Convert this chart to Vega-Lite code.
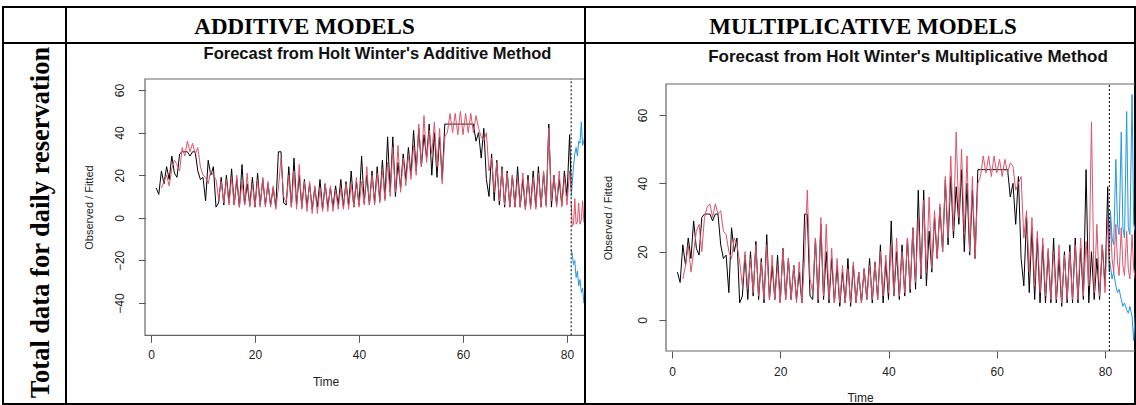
{
  "$schema": "https://vega.github.io/schema/vega-lite/v6.json",
  "padding": {"left": 2, "top": 6, "right": 0, "bottom": 0},
  "background": "white",
  "columns": 3,
  "align": "each",
  "bounds": "flush",
  "spacing": 0,
  "config": {
    "view": {"stroke": "#000", "strokeWidth": 2},
    "concat": {"spacing": 0},
    "font": "Liberation Sans",
    "axis": {"grid": false, "domain": false, "tickColor": "#555", "tickSize": 7, "labelFont": "Liberation Sans", "labelFontSize": 12, "labelColor": "#222", "titleFont": "Liberation Sans", "titleFontWeight": "normal", "titleColor": "#222", "titleFontSize": 12, "labelFlush": false, "labelOverlap": false}
  },
  "datasets": {
    "obs": [
      {"t":1,"o":14},{"t":1.5,"o":11},
      {"t":2,"o":22,"fa":14,"fm":12},{"t":2.5,"o":16,"fa":17,"fm":16},
      {"t":3,"o":24,"fa":20,"fm":22},{"t":3.5,"o":18,"fa":15,"fm":14},
      {"t":4,"o":29,"fa":23,"fm":20},{"t":4.5,"o":21,"fa":27,"fm":26},
      {"t":5,"o":19,"fa":25,"fm":28},{"t":5.5,"o":30,"fa":22,"fm":20},
      {"t":6,"o":31,"fa":33,"fm":30},{"t":6.5,"o":31,"fa":29,"fm":33},
      {"t":7,"o":31,"fa":36,"fm":34},{"t":7.5,"o":29,"fa":31,"fm":30},
      {"t":8,"o":31,"fa":35,"fm":34},{"t":8.5,"o":31,"fa":30,"fm":31},
      {"t":9,"o":22,"fa":33,"fm":32},{"t":9.5,"o":18,"fa":24,"fm":26},
      {"t":10,"o":19,"fa":20,"fm":25},{"t":10.5,"o":8,"fa":19,"fm":20},
      {"t":11,"o":27,"fa":16,"fm":18},{"t":11.5,"o":20,"fa":22,"fm":24},
      {"t":12,"o":24,"fa":20,"fm":22},{"t":12.5,"o":5,"fa":18,"fm":17},
      {"t":13,"o":7,"fa":9,"fm":10},{"t":13.5,"o":19,"fa":17,"fm":20},
      {"t":14,"o":6,"fa":7,"fm":9},{"t":14.5,"o":20,"fa":18,"fm":18},
      {"t":15,"o":7,"fa":6,"fm":8},{"t":15.5,"o":23,"fa":19,"fm":22},
      {"t":16,"o":6,"fa":6,"fm":7},{"t":16.5,"o":18,"fa":20,"fm":17},
      {"t":17,"o":5,"fa":5,"fm":6},{"t":17.5,"o":25,"fa":17,"fm":22},
      {"t":18,"o":6,"fa":6,"fm":6},{"t":18.5,"o":16,"fa":21,"fm":19},
      {"t":19,"o":6,"fa":5,"fm":6},{"t":19.5,"o":19,"fa":16,"fm":16},
      {"t":20,"o":5,"fa":5,"fm":5},{"t":20.5,"o":21,"fa":18,"fm":21},
      {"t":21,"o":6,"fa":5,"fm":6},{"t":21.5,"o":18,"fa":19,"fm":18},
      {"t":22,"o":6,"fa":5,"fm":6},{"t":22.5,"o":16,"fa":17,"fm":16},
      {"t":23,"o":6,"fa":5,"fm":5},{"t":23.5,"o":14,"fa":15,"fm":17},
      {"t":24,"o":5,"fa":4,"fm":5},{"t":24.5,"o":31,"fa":14,"fm":18},
      {"t":25,"o":31,"fa":28,"fm":38},{"t":25.5,"o":7,"fa":10,"fm":12},
      {"t":26,"o":6,"fa":7,"fm":8},{"t":26.5,"o":24,"fa":20,"fm":24},
      {"t":27,"o":5,"fa":5,"fm":6},{"t":27.5,"o":28,"fa":22,"fm":30},
      {"t":28,"o":6,"fa":4,"fm":7},{"t":28.5,"o":20,"fa":25,"fm":28},
      {"t":29,"o":5,"fa":4,"fm":6},{"t":29.5,"o":18,"fa":17,"fm":21},
      {"t":30,"o":5,"fa":3,"fm":5},{"t":30.5,"o":16,"fa":17,"fm":18},
      {"t":31,"o":4,"fa":2,"fm":5},{"t":31.5,"o":14,"fa":15,"fm":16},
      {"t":32,"o":5,"fa":2,"fm":5},{"t":32.5,"o":18,"fa":14,"fm":15},
      {"t":33,"o":4,"fa":3,"fm":5},{"t":33.5,"o":16,"fa":16,"fm":17},
      {"t":34,"o":5,"fa":3,"fm":5},{"t":34.5,"o":14,"fa":15,"fm":14},
      {"t":35,"o":5,"fa":3,"fm":5},{"t":35.5,"o":15,"fa":13,"fm":15},
      {"t":36,"o":6,"fa":4,"fm":6},{"t":36.5,"o":18,"fa":14,"fm":16},
      {"t":37,"o":5,"fa":4,"fm":6},{"t":37.5,"o":17,"fa":16,"fm":17},
      {"t":38,"o":6,"fa":4,"fm":6},{"t":38.5,"o":22,"fa":16,"fm":20},
      {"t":39,"o":5,"fa":5,"fm":7},{"t":39.5,"o":17,"fa":19,"fm":19},
      {"t":40,"o":6,"fa":5,"fm":8},{"t":40.5,"o":29,"fa":17,"fm":22},
      {"t":41,"o":7,"fa":6,"fm":7},{"t":41.5,"o":20,"fa":24,"fm":24},
      {"t":42,"o":6,"fa":6,"fm":7},{"t":42.5,"o":22,"fa":20,"fm":20},
      {"t":43,"o":7,"fa":6,"fm":8},{"t":43.5,"o":24,"fa":21,"fm":24},
      {"t":44,"o":8,"fa":7,"fm":9},{"t":44.5,"o":27,"fa":23,"fm":27},
      {"t":45,"o":9,"fa":8,"fm":11},{"t":45.5,"o":38,"fa":26,"fm":30},
      {"t":46,"o":12,"fa":10,"fm":13},{"t":46.5,"o":38,"fa":33,"fm":35},
      {"t":47,"o":10,"fa":12,"fm":14},{"t":47.5,"o":26,"fa":34,"fm":36},
      {"t":48,"o":14,"fa":12,"fm":15},{"t":48.5,"o":30,"fa":28,"fm":32},
      {"t":49,"o":18,"fa":15,"fm":18},{"t":49.5,"o":33,"fa":30,"fm":34},
      {"t":50,"o":20,"fa":18,"fm":20},{"t":50.5,"o":41,"fa":34,"fm":42},
      {"t":51,"o":22,"fa":20,"fm":24},{"t":51.5,"o":42,"fa":44,"fm":48},
      {"t":52,"o":24,"fa":24,"fm":26},{"t":52.5,"o":39,"fa":48,"fm":55},
      {"t":53,"o":28,"fa":26,"fm":30},{"t":53.5,"o":44,"fa":41,"fm":50},
      {"t":54,"o":20,"fa":30,"fm":25},{"t":54.5,"o":40,"fa":45,"fm":48},
      {"t":55,"o":19,"fa":24,"fm":20},{"t":55.5,"o":38,"fa":42,"fm":42},
      {"t":56,"o":18,"fa":16,"fm":18},{"t":56.5,"o":44,"fa":38,"fm":40},
      {"t":57,"o":44,"fa":40,"fm":42},{"t":57.5,"o":44,"fa":49,"fm":48},
      {"t":58,"o":44,"fa":40,"fm":43},{"t":58.5,"o":44,"fa":49,"fm":48},
      {"t":59,"o":44,"fa":39,"fm":42},{"t":59.5,"o":44,"fa":50,"fm":48},
      {"t":60,"o":44,"fa":39,"fm":43},{"t":60.5,"o":44,"fa":49,"fm":47},
      {"t":61,"o":44,"fa":40,"fm":42},{"t":61.5,"o":44,"fa":49,"fm":47},
      {"t":62,"o":44,"fa":40,"fm":43},{"t":62.5,"o":36,"fa":48,"fm":46},
      {"t":63,"o":40,"fa":42,"fm":45},{"t":63.5,"o":28,"fa":38,"fm":38},
      {"t":64,"o":42,"fa":36,"fm":40},{"t":64.5,"o":18,"fa":40,"fm":42},
      {"t":65,"o":10,"fa":22,"fm":24},{"t":65.5,"o":30,"fa":28,"fm":32},
      {"t":66,"o":8,"fa":12,"fm":14},{"t":66.5,"o":27,"fa":26,"fm":30},
      {"t":67,"o":6,"fa":8,"fm":10},{"t":67.5,"o":24,"fa":23,"fm":26},
      {"t":68,"o":5,"fa":6,"fm":8},{"t":68.5,"o":22,"fa":21,"fm":24},
      {"t":69,"o":5,"fa":5,"fm":7},{"t":69.5,"o":20,"fa":20,"fm":21},
      {"t":70,"o":5,"fa":5,"fm":6},{"t":70.5,"o":24,"fa":19,"fm":20},
      {"t":71,"o":5,"fa":5,"fm":6},{"t":71.5,"o":18,"fa":21,"fm":22},
      {"t":72,"o":4,"fa":4,"fm":5},{"t":72.5,"o":20,"fa":18,"fm":19},
      {"t":73,"o":5,"fa":4,"fm":6},{"t":73.5,"o":22,"fa":19,"fm":20},
      {"t":74,"o":5,"fa":4,"fm":6},{"t":74.5,"o":24,"fa":21,"fm":22},
      {"t":75,"o":5,"fa":5,"fm":6},{"t":75.5,"o":21,"fa":22,"fm":24},
      {"t":76,"o":6,"fa":5,"fm":7},{"t":76.5,"o":44,"fa":42,"fm":23},
      {"t":77,"o":5,"fa":8,"fm":10},{"t":77.5,"o":20,"fa":20,"fm":58},
      {"t":78,"o":6,"fa":5,"fm":8},{"t":78.5,"o":18,"fa":22,"fm":28},
      {"t":79,"o":6,"fa":5,"fm":7},{"t":79.5,"o":22,"fa":19,"fm":22},
      {"t":80,"o":10,"fa":6,"fm":8},{"t":80.5,"o":39,"fa":22,"fm":30},
      {"t":80.8,"o":14,"fa":12,"fm":20}
    ],
    "fca": [
      {"t":80.8,"m":8,"u":10,"l":-15},{"t":81,"m":-4,"u":16,"l":-17},
      {"t":81.25,"m":-3,"u":24,"l":-22},{"t":81.5,"m":9,"u":30,"l":-20},
      {"t":81.75,"m":-3,"u":33,"l":-28},{"t":82,"m":-2,"u":29,"l":-25},
      {"t":82.25,"m":7,"u":36,"l":-32},{"t":82.5,"m":-3,"u":35,"l":-29},
      {"t":82.75,"m":-1,"u":45,"l":-35},{"t":83,"m":8,"u":34,"l":-33},
      {"t":83.25,"m":-2,"u":36,"l":-40},{"t":83.5,"m":-1,"u":40,"l":-38},
      {"t":83.75,"m":7,"u":46,"l":-42},{"t":84,"m":-3,"u":38,"l":-44}
    ],
    "fcm": [
      {"t":80.8,"m":22,"u":22,"l":18},{"t":81,"m":30,"u":32,"l":16},
      {"t":81.3,"m":18,"u":24,"l":12},{"t":81.6,"m":14,"u":22,"l":14},
      {"t":82,"m":28,"u":47,"l":10},{"t":82.3,"m":17,"u":28,"l":8},
      {"t":82.6,"m":13,"u":25,"l":9},{"t":83,"m":27,"u":55,"l":6},
      {"t":83.3,"m":16,"u":27,"l":4},{"t":83.6,"m":13,"u":24,"l":5},
      {"t":84,"m":26,"u":61,"l":3},{"t":84.3,"m":15,"u":27,"l":2},
      {"t":84.6,"m":12,"u":25,"l":4},{"t":85,"m":25,"u":66,"l":1},
      {"t":85.3,"m":15,"u":28,"l":-6},{"t":85.6,"m":12,"u":26,"l":2},
      {"t":86,"m":24,"u":68,"l":0}
    ]
  },
  "concat": [
    {
      "width": 63, "height": 36,
      "data": {"values": [{"h": ""}]},
      "mark": {"type": "text"},
      "encoding": {
        "x": {"datum": 0, "type": "quantitative", "axis": null, "scale": {"domain": [-1, 1]}},
        "y": {"datum": 0, "type": "quantitative", "axis": null, "scale": {"domain": [-1, 1]}},
        "text": {"field": "h"}
      }
    },
    {
      "width": 519, "height": 36,
      "data": {"values": [{"h": "ADDITIVE MODELS"}]},
      "mark": {"type": "text", "font": "Liberation Serif", "fontWeight": "bold", "fontSize": 23, "baseline": "middle", "align": "center", "dx": -21, "dy": 2, "color": "#000"},
      "encoding": {
        "x": {"datum": 0, "type": "quantitative", "axis": null, "scale": {"domain": [-1, 1]}},
        "y": {"datum": 0, "type": "quantitative", "axis": null, "scale": {"domain": [-1, 1]}},
        "text": {"field": "h"}
      }
    },
    {
      "width": 550, "height": 36,
      "data": {"values": [{"h": "MULTIPLICATIVE MODELS"}]},
      "mark": {"type": "text", "font": "Liberation Serif", "fontWeight": "bold", "fontSize": 23, "baseline": "middle", "align": "center", "dx": 3, "dy": 2, "color": "#000"},
      "encoding": {
        "x": {"datum": 0, "type": "quantitative", "axis": null, "scale": {"domain": [-1, 1]}},
        "y": {"datum": 0, "type": "quantitative", "axis": null, "scale": {"domain": [-1, 1]}},
        "text": {"field": "h"}
      }
    },
    {
      "width": 63, "height": 361,
      "data": {"values": [{"lab": "Total data for daily reservation"}]},
      "mark": {"type": "text", "angle": 270, "font": "Liberation Serif", "fontWeight": "bold", "fontSize": 26.5, "baseline": "middle", "align": "center", "dx": 1, "dy": 6, "color": "#000"},
      "encoding": {
        "x": {"datum": 0, "type": "quantitative", "axis": null, "scale": {"domain": [-1, 1]}},
        "y": {"datum": 0, "type": "quantitative", "axis": null, "scale": {"domain": [-1, 1]}},
        "text": {"field": "lab"}
      }
    },
    {
      "width": 519, "height": 361,
      "title": {"text": "Forecast from Holt Winter's Additive Method", "anchor": "middle", "dx": 52, "offset": -19, "font": "Liberation Sans", "fontSize": 16.5, "fontWeight": "bold", "color": "#111"},
      "layer": [
        {
          "data": {"values": [{"f": 1}]},
          "mark": {"type": "rect", "filled": false, "stroke": "#666", "strokeWidth": 1.2, "clip": true},
          "encoding": {
            "x": {"datum": -1.15, "type": "quantitative", "scale": {"domain": [-16.346, 83.462], "nice": false, "zero": false},
                  "axis": {"orient": "bottom", "offset": -68.7, "values": [0, 20, 40, 60, 80], "title": "Time", "labelPadding": 7, "titlePadding": 16}},
            "x2": {"datum": 95},
            "y": {"datum": -55.16, "type": "quantitative", "scale": {"domain": [-87.42, 82.07], "nice": false, "zero": false},
                  "axis": {"orient": "left", "offset": -79.5, "values": [-40, -20, 0, 20, 40, 60], "title": "Observed / Fitted", "labelAngle": 270, "labelAlign": "center", "labelBaseline": "bottom", "labelPadding": 12, "titleFontSize": 11, "titlePadding": 19, "titleY": 164}},
            "y2": {"datum": 65.16}
          }
        },
        {
          "data": {"name": "obs"},
          "mark": {"type": "line", "color": "#000", "strokeWidth": 1, "clip": true},
          "encoding": {
            "x": {"field": "t", "type": "quantitative"},
            "y": {"field": "o", "type": "quantitative"}
          }
        },
        {
          "data": {"name": "obs"},
          "mark": {"type": "line", "color": "#DF536B", "strokeWidth": 1, "clip": true},
          "encoding": {
            "x": {"field": "t", "type": "quantitative"},
            "y": {"field": "fa", "type": "quantitative"}
          }
        },
        {
          "data": {"name": "fca"},
          "mark": {"type": "line", "color": "#DF536B", "strokeWidth": 1, "clip": true},
          "encoding": {
            "x": {"field": "t", "type": "quantitative"},
            "y": {"field": "m", "type": "quantitative"}
          }
        },
        {
          "data": {"name": "fca"},
          "mark": {"type": "line", "color": "#2297E6", "strokeWidth": 1, "clip": true},
          "encoding": {
            "x": {"field": "t", "type": "quantitative"},
            "y": {"field": "u", "type": "quantitative"}
          }
        },
        {
          "data": {"name": "fca"},
          "mark": {"type": "line", "color": "#2297E6", "strokeWidth": 1, "clip": true},
          "encoding": {
            "x": {"field": "t", "type": "quantitative"},
            "y": {"field": "l", "type": "quantitative"}
          }
        },
        {
          "data": {"values": [{"f": 1}]},
          "mark": {"type": "rule", "color": "#000", "strokeWidth": 1, "strokeDash": [2, 2]},
          "encoding": {
            "x": {"datum": 80.8, "type": "quantitative"},
            "y": {"datum": -55.16, "type": "quantitative"},
            "y2": {"datum": 65.16}
          }
        }
      ]
    },
    {
      "width": 550, "height": 361,
      "title": {"text": "Forecast from Holt Winter's Multiplicative Method", "anchor": "middle", "dx": 48, "offset": -23, "font": "Liberation Sans", "fontSize": 17, "fontWeight": "bold", "color": "#111"},
      "layer": [
        {
          "data": {"values": [{"f": 1}]},
          "mark": {"type": "rect", "filled": false, "stroke": "#666", "strokeWidth": 1.2, "clip": true},
          "encoding": {
            "x": {"datum": -1.108, "type": "quantitative", "scale": {"domain": [-16.074, 85.54], "nice": false, "zero": false},
                  "axis": {"orient": "bottom", "offset": -53, "values": [0, 20, 40, 60, 80], "title": "Time", "labelPadding": 8, "titlePadding": 15}},
            "x2": {"datum": 95},
            "y": {"datum": -9.07, "type": "quantitative", "scale": {"domain": [-24.585, 81.07], "nice": false, "zero": false},
                  "axis": {"orient": "left", "offset": -81, "values": [0, 20, 40, 60], "title": "Observed / Fitted", "labelAngle": 270, "labelAlign": "center", "labelBaseline": "bottom", "labelPadding": 10, "titleFontSize": 11, "titlePadding": 23, "titleY": 174.5}},
            "y2": {"datum": 69.07}
          }
        },
        {
          "data": {"name": "obs"},
          "mark": {"type": "line", "color": "#000", "strokeWidth": 1, "clip": true},
          "encoding": {
            "x": {"field": "t", "type": "quantitative"},
            "y": {"field": "o", "type": "quantitative"}
          }
        },
        {
          "data": {"name": "obs"},
          "mark": {"type": "line", "color": "#DF536B", "strokeWidth": 1, "clip": true},
          "encoding": {
            "x": {"field": "t", "type": "quantitative"},
            "y": {"field": "fm", "type": "quantitative"}
          }
        },
        {
          "data": {"name": "fcm"},
          "mark": {"type": "line", "color": "#DF536B", "strokeWidth": 1, "clip": true},
          "encoding": {
            "x": {"field": "t", "type": "quantitative"},
            "y": {"field": "m", "type": "quantitative"}
          }
        },
        {
          "data": {"name": "fcm"},
          "mark": {"type": "line", "color": "#2297E6", "strokeWidth": 1, "clip": true},
          "encoding": {
            "x": {"field": "t", "type": "quantitative"},
            "y": {"field": "u", "type": "quantitative"}
          }
        },
        {
          "data": {"name": "fcm"},
          "mark": {"type": "line", "color": "#2297E6", "strokeWidth": 1, "clip": true},
          "encoding": {
            "x": {"field": "t", "type": "quantitative"},
            "y": {"field": "l", "type": "quantitative"}
          }
        },
        {
          "data": {"values": [{"f": 1}]},
          "mark": {"type": "rule", "color": "#000", "strokeWidth": 1, "strokeDash": [2, 2]},
          "encoding": {
            "x": {"datum": 80.8, "type": "quantitative"},
            "y": {"datum": -9.07, "type": "quantitative"},
            "y2": {"datum": 69.07}
          }
        }
      ]
    }
  ]
}
